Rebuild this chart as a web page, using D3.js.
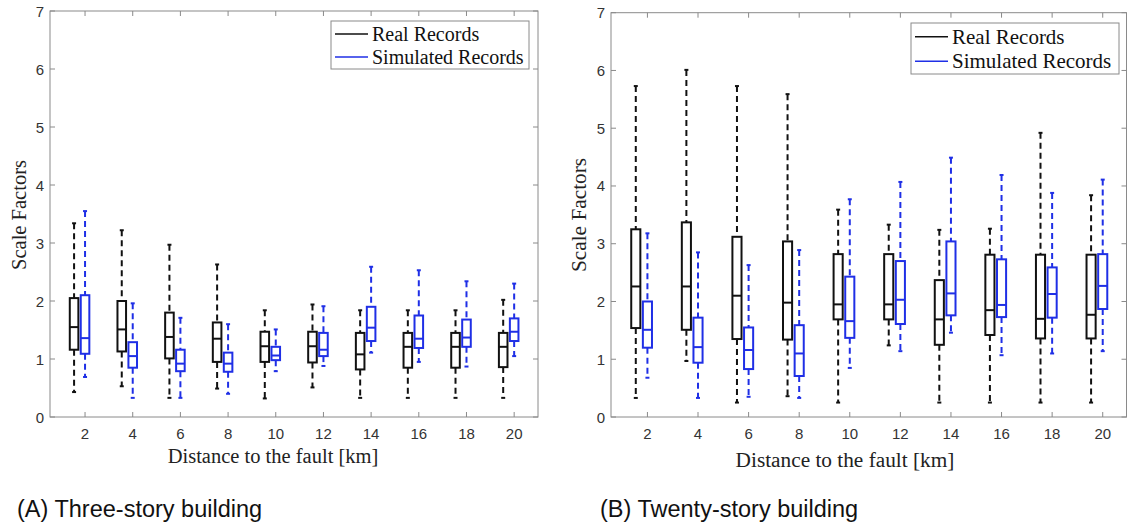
<html>
<head>
<title>Scale factors boxplots</title>
<script src="https://cdn.jsdelivr.net/npm/d3@7"></script>
<style>
  body { margin: 0; background: #fff; }
  .tick-label { font-family: "Liberation Sans", Arial, sans-serif; font-size: 15px; fill: #333; }
  .axis-title { font-family: "Liberation Serif", "Times New Roman", serif; fill: #222; }
  .legend-text { font-family: "Liberation Serif", "Times New Roman", serif; fill: #111; }
  .caption { font-family: "Liberation Sans", Arial, sans-serif; font-size: 23.5px; fill: #111; }
</style>
</head>
<body>
<script>
// distances to the fault (km)
let distances = [2, 4, 6, 8, 10, 12, 14, 16, 18, 20]
let yTicks = [0, 1, 2, 3, 4, 5, 6, 7]
let seriesNames = ["Real Records", "Simulated Records"]
let captions = ["(A) Three-story building", "(B) Twenty-story building"]

// each entry: [lower whisker, q1, median, q3, upper whisker]
let realThree = [
  [0.43, 1.16, 1.55, 2.05, 3.34],
  [0.53, 1.13, 1.51, 2.00, 3.22],
  [0.33, 1.01, 1.38, 1.80, 2.97],
  [0.49, 0.95, 1.35, 1.63, 2.63],
  [0.32, 0.95, 1.22, 1.47, 1.84],
  [0.51, 0.94, 1.22, 1.47, 1.94],
  [0.33, 0.82, 1.08, 1.45, 1.84],
  [0.33, 0.85, 1.21, 1.45, 1.84],
  [0.33, 0.85, 1.21, 1.45, 1.84],
  [0.33, 0.86, 1.21, 1.45, 2.02]
]
let simThree = [
  [0.69, 1.09, 1.36, 2.10, 3.55],
  [0.33, 0.85, 1.05, 1.29, 1.96],
  [0.33, 0.79, 0.92, 1.16, 1.71],
  [0.40, 0.78, 0.92, 1.11, 1.60],
  [0.79, 0.98, 1.06, 1.21, 1.51],
  [0.88, 1.05, 1.16, 1.45, 1.91],
  [1.11, 1.31, 1.54, 1.90, 2.59],
  [0.95, 1.19, 1.35, 1.75, 2.53],
  [0.87, 1.21, 1.37, 1.68, 2.34],
  [1.05, 1.31, 1.47, 1.70, 2.30]
]
let realTwenty = [
  [0.33, 1.54, 2.26, 3.25, 5.73],
  [0.97, 1.51, 2.26, 3.37, 6.01],
  [0.25, 1.35, 2.10, 3.12, 5.73],
  [0.36, 1.34, 1.98, 3.04, 5.59],
  [0.25, 1.69, 1.95, 2.82, 3.59],
  [1.24, 1.69, 1.95, 2.82, 3.33],
  [0.25, 1.25, 1.69, 2.37, 3.24],
  [0.25, 1.42, 1.85, 2.81, 3.26],
  [0.25, 1.36, 1.70, 2.81, 4.92],
  [0.25, 1.36, 1.77, 2.81, 3.84]
]
let simTwenty = [
  [0.68, 1.20, 1.51, 2.00, 3.18],
  [0.33, 0.94, 1.21, 1.72, 2.85],
  [0.35, 0.83, 1.16, 1.55, 2.63],
  [0.33, 0.71, 1.10, 1.59, 2.89],
  [0.85, 1.37, 1.66, 2.43, 3.77],
  [1.14, 1.61, 2.03, 2.70, 4.07],
  [1.46, 1.76, 2.14, 3.04, 4.49],
  [1.07, 1.73, 1.94, 2.73, 4.19],
  [1.10, 1.72, 2.13, 2.59, 3.88],
  [1.14, 1.87, 2.27, 2.82, 4.11]
]

let w = 1128
let h = 529
let colors = ["#111111", "#1f2fe6"]

let panels = [
  {real: realThree, sim: simThree, xDomain: [0.53, 21.0], xRange: [50, 538], yRange: [417, 11],
   titleX: 273, titleY: 463, titleSize: 20.5, ylabX: 26,
   legend: {x: 331, y: 21, w: 198, h: 48, size: 20},
   capX: 17, capY: 517, caption: captions[0]},
  {real: realTwenty, sim: simTwenty, xDomain: [0.56, 20.94], xRange: [611, 1126.5], yRange: [417, 12.7],
   titleX: 845, titleY: 467, titleSize: 21.3, ylabX: 586,
   legend: {x: 911, y: 23, w: 208, h: 51, size: 21},
   capX: 600, capY: 517, caption: captions[1]}
]

let svg = d3.select("body")
  .append("svg")
  .attr("width", w)
  .attr("height", h)

panels.forEach((p) => {
  let x = d3.scaleLinear().domain(p.xDomain).range(p.xRange)
  let y = d3.scaleLinear().domain([0, 7]).range(p.yRange)
  let g = svg.append("g")
  let x0 = p.xRange[0], x1 = p.xRange[1], y0 = p.yRange[0], y1 = p.yRange[1]

  // frame
  g.append("rect")
    .attr("x", x0).attr("y", y1)
    .attr("width", x1 - x0).attr("height", y0 - y1)
    .attr("fill", "none")
    .attr("stroke", "#8a8a8a")
    .attr("stroke-width", 1)

  // inward ticks (bottom/top)
  let tl = 5
  distances.forEach((d) => {
    g.append("line").attr("x1", x(d)).attr("x2", x(d)).attr("y1", y0).attr("y2", y0 - tl).attr("stroke", "#8a8a8a")
    g.append("line").attr("x1", x(d)).attr("x2", x(d)).attr("y1", y1).attr("y2", y1 + tl).attr("stroke", "#8a8a8a")
    g.append("text").attr("class", "tick-label")
      .attr("x", x(d)).attr("y", 439)
      .attr("text-anchor", "middle")
      .text(d)
  })
  yTicks.forEach((t) => {
    g.append("line").attr("x1", x0).attr("x2", x0 + tl).attr("y1", y(t)).attr("y2", y(t)).attr("stroke", "#8a8a8a")
    g.append("line").attr("x1", x1).attr("x2", x1 - tl).attr("y1", y(t)).attr("y2", y(t)).attr("stroke", "#8a8a8a")
    g.append("text").attr("class", "tick-label")
      .attr("x", x0 - 6).attr("y", y(t) + 5.5)
      .attr("text-anchor", "end")
      .text(t)
  })

  // boxes
  let halfW = 0.18
  let sets = [{data: p.real, off: -0.46, color: colors[0]}, {data: p.sim, off: 0, color: colors[1]}]
  sets.forEach((s) => {
    let bg = g.append("g")
    let rows = s.data.map((v, i) => ({pos: distances[i] + s.off, v: v}))
    // whiskers
    bg.selectAll(".wup").data(rows).enter().append("line")
      .attr("x1", (d) => x(d.pos)).attr("x2", (d) => x(d.pos))
      .attr("y1", (d) => y(d.v[4])).attr("y2", (d) => y(d.v[3]))
      .attr("stroke", s.color).attr("stroke-width", 2).attr("stroke-dasharray", "6,4")
    bg.selectAll(".wlo").data(rows).enter().append("line")
      .attr("x1", (d) => x(d.pos)).attr("x2", (d) => x(d.pos))
      .attr("y1", (d) => y(d.v[1])).attr("y2", (d) => y(d.v[0]))
      .attr("stroke", s.color).attr("stroke-width", 2).attr("stroke-dasharray", "6,4")
    // caps
    ;[0, 4].forEach((k) => {
      bg.selectAll(".cap" + k).data(rows).enter().append("line")
        .attr("x1", (d) => x(d.pos) - 2).attr("x2", (d) => x(d.pos) + 2)
        .attr("y1", (d) => y(d.v[k])).attr("y2", (d) => y(d.v[k]))
        .attr("stroke", s.color).attr("stroke-width", 2)
    })
    bg.selectAll("rect").data(rows).enter().append("rect")
      .attr("x", (d) => x(d.pos - halfW))
      .attr("width", (d) => x(d.pos + halfW) - x(d.pos - halfW))
      .attr("y", (d) => y(d.v[3]))
      .attr("height", (d) => y(d.v[1]) - y(d.v[3]))
      .attr("fill", "white")
      .attr("stroke", s.color).attr("stroke-width", 2)
    bg.selectAll(".med").data(rows).enter().append("line")
      .attr("x1", (d) => x(d.pos - halfW)).attr("x2", (d) => x(d.pos + halfW))
      .attr("y1", (d) => y(d.v[2])).attr("y2", (d) => y(d.v[2]))
      .attr("stroke", s.color).attr("stroke-width", 2)
  })

  // axis titles
  g.append("text").attr("class", "axis-title")
    .attr("x", p.titleX).attr("y", p.titleY)
    .attr("text-anchor", "middle")
    .style("font-size", p.titleSize + "px")
    .text("Distance to the fault [km]")
  g.append("text").attr("class", "axis-title")
    .attr("transform", "translate(" + p.ylabX + ",215) rotate(-90)")
    .attr("text-anchor", "middle")
    .style("font-size", p.titleSize + "px")
    .text("Scale Factors")

  // legend
  let L = p.legend
  g.append("rect").attr("x", L.x).attr("y", L.y).attr("width", L.w).attr("height", L.h)
    .attr("fill", "white").attr("stroke", "#8a8a8a")
  seriesNames.forEach((n, i) => {
    let ly = L.y + L.h * (0.27 + i * 0.48)
    g.append("line").attr("x1", L.x + 4).attr("x2", L.x + 37)
      .attr("y1", ly).attr("y2", ly)
      .attr("stroke", colors[i]).attr("stroke-width", 1.5)
    g.append("text").attr("class", "legend-text")
      .attr("x", L.x + 41).attr("y", ly + L.size * 0.33)
      .style("font-size", L.size + "px")
      .text(n)
  })

  // caption
  g.append("text").attr("class", "caption")
    .attr("x", p.capX).attr("y", p.capY)
    .text(p.caption)
})
</script>
</body>
</html>
